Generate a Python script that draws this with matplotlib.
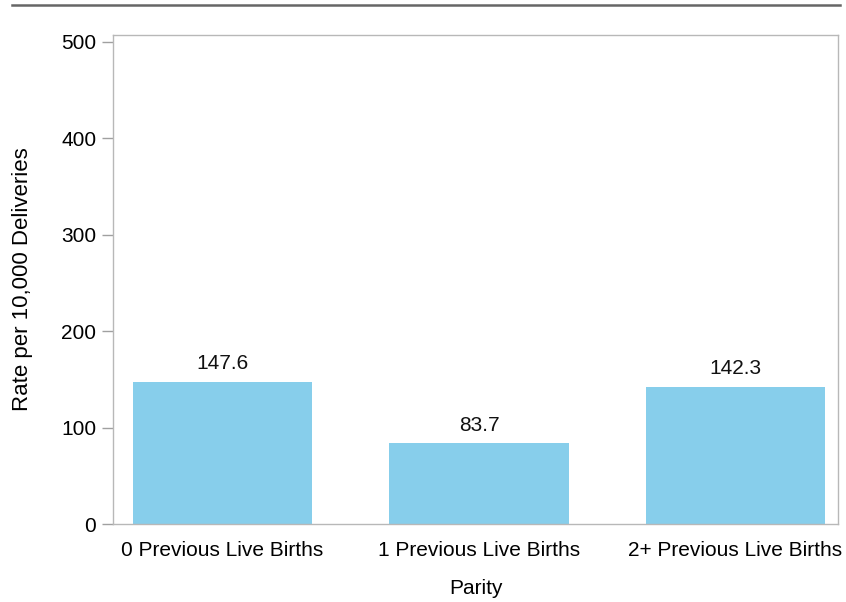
import matplotlib
matplotlib.use("Agg")
import matplotlib.pyplot as plt
from matplotlib.lines import Line2D

categories = ["0 Previous Live Births", "1 Previous Live Births", "2+ Previous Live Births"]
values = [147.6, 83.7, 142.3]
labels = ["147.6", "83.7", "142.3"]
yticks = [0, 100, 200, 300, 400, 500]

plt.rcParams['font.family'] = ['Liberation Sans', 'DejaVu Sans']

fig = plt.figure(figsize=(8.46, 6.02), dpi=100)
ax = fig.add_axes([113/846, 78/602, (838-113)/846, (524-35)/602])

x = list(range(len(categories)))
ax.bar(x, values, width=0.70, color="#87CEEB", zorder=2)
for xi, v, lab in zip(x, values, labels):
    ax.annotate(lab, (xi, v), xytext=(0, 6), textcoords="offset points",
                ha="center", va="bottom", fontsize=15, color="#111111")

ax.set_xlim(-0.427, 2.40)
ax.set_ylim(0, 507)
ax.set_yticks(yticks)
ax.set_xticks(x)
ax.set_xticklabels(categories, fontsize=15)
ax.tick_params(axis='y', labelsize=15, length=8, color="#a0a0a0", width=1, pad=4)
ax.tick_params(axis='x', length=0, pad=12)
for s in ax.spines.values():
    s.set_color("#b8b8b8")
    s.set_linewidth(1)

ax.set_xlabel("Parity", fontsize=15, labelpad=14)
ax.set_ylabel("Rate per 10,000 Deliveries", fontsize=16, labelpad=20)

fig.add_artist(Line2D([12/846, 840/846], [1-5/602, 1-5/602], color="#666666", linewidth=1.8))

fig.savefig("out.png", dpi=100)
